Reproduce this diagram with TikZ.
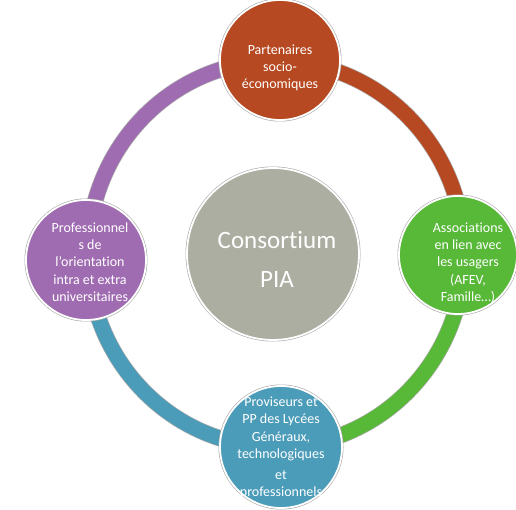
\documentclass[tikz,border=0pt]{standalone}
\usepackage{fontspec}
\setmainfont{Carlito}[Ligatures=NoCommon]
\definecolor{cbrown}{RGB}{182,73,33}
\definecolor{cgreen}{RGB}{88,184,56}
\definecolor{cblue}{RGB}{75,156,185}
\definecolor{cpurple}{RGB}{160,108,177}
\definecolor{cgray}{RGB}{173,174,162}
\definecolor{edgegray}{RGB}{170,170,170}
\tikzset{
  sat/.style={circle, minimum size=118pt, inner sep=0pt, fill=#1, draw=white, line width=1.8pt,
    preaction={draw=edgegray, line width=3pt}},
  lbl/.style={text=white, align=center, font=\fontsize{14}{17.2}\selectfont, inner sep=0pt},
  band/.style={line width=15pt, draw=#1, preaction={draw=edgegray, line width=16.4pt}},
}
\begin{document}
\begin{tikzpicture}[x=1pt,y=-1pt]
\useasboundingbox (0,0) rectangle (516,510);
\clip (0,0) rectangle (516,510);
% ring anchor points
\coordinate (pT) at (276,61);
\coordinate (pR) at (464,254);
\coordinate (pB) at (276,447);
\coordinate (pL) at (88,254);
\draw[band=cbrown]  (pT) arc[start angle=-90, end angle=0,   x radius=188, y radius=193];
\draw[band=cgreen]  (pR) arc[start angle=0,   end angle=90,  x radius=188, y radius=193];
\draw[band=cblue]   (pB) arc[start angle=90,  end angle=180, x radius=188, y radius=193];
\draw[band=cpurple] (pL) arc[start angle=180, end angle=270, x radius=188, y radius=193];
% center
\node[sat=cgray, minimum size=172pt] (center) at (273,254) {};
\node[text=white, align=center, font=\fontsize{25}{39}\selectfont] (centerlbl) at (277,259) {Consortium\\PIA};
% satellites
\node[sat=cbrown, minimum size=120pt] (top) at (280,60) {};
\node[lbl] (toplbl) at (280,68) {Partenaires\\socio-\\économiques};
\node[sat=cgreen] (right) at (458,255) {};
\node[lbl] (rightlbl) at (468,263) {Associations\\en lien avec\\les usagers\\(AFEV,\\Famille…)};
\node[sat=cblue, minimum size=122pt] (bottom) at (281,447) {};
\node[lbl] (bottomlbl) at (281,448) {Proviseurs et\\PP des Lycées\\Généraux,\\technologiques\\[4pt]et\\professionnels};
\node[sat=cpurple, minimum size=120pt] (left) at (86,260) {};
\node[lbl] (leftlbl) at (90,262) {Professionnel\\s de\\l’orientation\\intra et extra\\universitaires};
\end{tikzpicture}
\end{document}
